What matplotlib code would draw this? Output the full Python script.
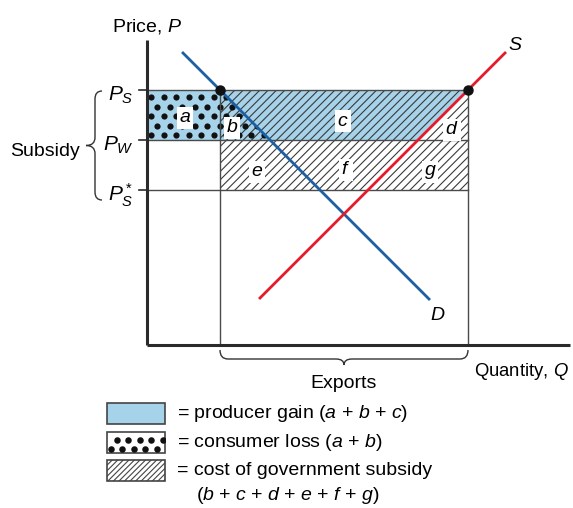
import matplotlib
matplotlib.use("Agg")
import matplotlib.pyplot as plt
import numpy as np
from matplotlib.patches import Polygon, Rectangle, PathPatch
from matplotlib.path import Path

plt.rcParams['font.family'] = ['Liberation Sans', 'DejaVu Sans']
plt.rcParams['mathtext.fontset'] = 'custom'
plt.rcParams['mathtext.rm'] = 'Liberation Sans'
plt.rcParams['mathtext.it'] = 'Liberation Sans:italic'
plt.rcParams['hatch.color'] = '#3a3a3a'
plt.rcParams['hatch.linewidth'] = 0.8

# prices
P_S = 25.5        # support price for exporters
P_W = 20.5        # world price
P_S_star = 15.5   # foreign price after subsidy
# quantities where exports start / end
Q1 = 7.3
Q2 = 32.1
# linear curves p = a + b*q
demand_a, demand_b = 32.8, -1.0
supply_a, supply_b = -6.6, 1.0
demand_q = [3.6, 28.2]
supply_q = [11.3, 35.8]

# area labels
area_labels = ['a', 'b', 'c', 'd', 'e', 'f', 'g']
area_q = [3.8, 8.5, 19.6, 30.5, 11.0, 19.9, 28.3]
area_p = [22.7, 21.7, 22.4, 21.5, 17.3, 17.5, 17.3]

legend_texts = ['= producer gain ($a$ + $b$ + $c$)',
                '= consumer loss ($a$ + $b$)',
                '= cost of government subsidy']
legend_text2 = '($b$ + $c$ + $d$ + $e$ + $f$ + $g$)'

BLUE_FILL = '#a6d3ea'
D_COL = '#1b5fa5'
S_COL = '#e31b2b'
AX_COL = '#2a2a2a'
LN_COL = '#4a4a4a'
HATCH_COL = '#3a3a3a'
FS = 14


def demand(q):
    return demand_a + demand_b * np.asarray(q)


def supply(q):
    return supply_a + supply_b * np.asarray(q)


def q_demand(p):
    return (p - demand_a) / demand_b


def q_supply(p):
    return (p - supply_a) / supply_b


def dots(ax, clip, x0, x1, y0, y1, dx=1.2, dy=1.0, s=12):
    # staggered dot texture clipped to a patch
    xs, ys = [], []
    for i, y in enumerate(np.arange(y0 + dy / 2, y1, dy)):
        off = (i % 2) * dx / 2
        for x in np.arange(x0 + dx / 3 + off, x1, dx):
            xs.append(x)
            ys.append(y)
    sc = ax.scatter(xs, ys, s=s, color='#111111', zorder=4, linewidths=0)
    sc.set_clip_path(clip)


def brace(ax, pts):
    codes = [Path.MOVETO, Path.CURVE3, Path.CURVE3, Path.LINETO,
             Path.CURVE3, Path.CURVE3, Path.CURVE3, Path.CURVE3,
             Path.LINETO, Path.CURVE3, Path.CURVE3]
    ax.add_patch(PathPatch(Path(pts, codes), fc='none', ec='#333333', lw=1.0))


fig = plt.figure(figsize=(5.73, 5.08), dpi=100)
ax = fig.add_axes([0, 0, 1, 1])
ax.set_xlim(-14.7, 42.6)
ax.set_ylim(-16.3, 34.5)
ax.axis('off')

# producer gain (a + b + c) in blue
qs_w = q_supply(P_W)
blue = Polygon([(0, P_W), (0, P_S), (Q2, P_S), (qs_w, P_W)], closed=True,
               fc=BLUE_FILL, ec='none', zorder=1)
ax.add_patch(blue)

# cost of subsidy hatched (b..g)
hatch_rect = Rectangle((Q1, P_S_star), Q2 - Q1, P_S - P_S_star, fc='none',
                       ec=HATCH_COL, lw=0, hatch='////', zorder=2)
ax.add_patch(hatch_rect)

# consumer loss dots (a + b)
qd_w = q_demand(P_W)
loss = Polygon([(0, P_W), (0, P_S), (Q1, P_S), (qd_w, P_W)], closed=True,
               fc='none', ec='none', zorder=3)
ax.add_patch(loss)
dots(ax, loss, 0, qd_w, P_W, P_S, dx=1.25, dy=0.95, s=20)

# grid lines of the diagram
for p in [P_S, P_W, P_S_star]:
    ax.plot([0, Q2], [p, p], color=LN_COL, lw=1.0, zorder=5)
    ax.plot([-0.8, 0], [p, p], color=AX_COL, lw=1.2, zorder=5)
for q in [Q1, Q2]:
    ax.plot([q, q], [0, P_S], color=LN_COL, lw=1.0, zorder=5)

# axes
ax.plot([0, 0], [0, 30.5], color=AX_COL, lw=2.2, zorder=6, solid_capstyle='butt')
ax.plot([0, 42.3], [0, 0], color=AX_COL, lw=2.2, zorder=6, solid_capstyle='butt')

# demand and supply
ax.plot(demand_q, demand(demand_q), color=D_COL, lw=2.0, zorder=7)
ax.plot(supply_q, supply(supply_q), color=S_COL, lw=2.0, zorder=7)
ax.plot([Q1, Q2], [P_S, P_S], 'o', color='#111111', ms=6.5, zorder=8)

ax.text(supply_q[1] + 1.0, supply(supply_q[1]) + 0.8, '$S$', fontsize=FS,
        ha='center', va='center')
ax.text(demand_q[1] + 0.9, demand(demand_q[1]) - 1.6, '$D$', fontsize=FS,
        ha='center', va='center')

for lab, q, p in zip(area_labels, area_q, area_p):
    ax.text(q, p, '$' + lab + '$', fontsize=FS, ha='center', va='center', zorder=9,
            bbox=dict(fc='white', ec='none', pad=1.5))

# axis titles
ax.text(0, 31.8, 'Price, $P$', fontsize=FS, ha='center', va='center')
ax.text(32.7, -2.6, 'Quantity, $Q$', fontsize=13.3, ha='left', va='center')

# price labels
ax.text(-1.3, P_S - 0.5, '$P_S$', fontsize=FS + 1, ha='right', va='center')
ax.text(-1.3, P_W - 0.5, '$P_W$', fontsize=FS + 1, ha='right', va='center')
ax.text(-1.3, P_S_star - 0.5, '$P_S^*$', fontsize=FS + 1, ha='right', va='center')

# subsidy brace
xe, xs, xt, r = -4.5, -5.2, -6.1, 0.8
yt, yb = 25.4, 14.5
ym = (yt + yb) / 2
brace(ax, [(xe, yt), (xs, yt), (xs, yt - r), (xs, ym + r), (xs, ym), (xt, ym),
           (xs, ym), (xs, ym - r), (xs, yb + r), (xs, yb), (xe, yb)])
ax.text(-6.7, ym - 0.6, 'Subsidy', fontsize=FS, ha='right', va='center')

# exports brace
pe, ps, pt = -0.5, -1.4, -2.0
qm = (Q1 + Q2) / 2
brace(ax, [(Q1, pe), (Q1, ps), (Q1 + r, ps), (qm - r, ps), (qm, ps), (qm, pt),
           (qm, ps), (qm + r, ps), (Q2 - r, ps), (Q2, ps), (Q2, pe)])
ax.text(qm, -3.8, 'Exports', fontsize=FS, ha='center', va='center')

# key
kx, kw, kh = -4.0, 5.8, 2.1
key_top = [-5.8, -8.7, -11.5]
sw1 = Rectangle((kx, key_top[0] - kh), kw, kh, fc=BLUE_FILL, ec='#444444', lw=1.2)
ax.add_patch(sw1)
sw2 = Rectangle((kx, key_top[1] - kh), kw, kh, fc='white', ec='#444444', lw=1.2)
ax.add_patch(sw2)
dots(ax, sw2, kx, kx + kw, key_top[1] - kh, key_top[1], dx=1.15, dy=0.85, s=22)
sw3 = Rectangle((kx, key_top[2] - kh), kw, kh, fc='white', ec='#444444', lw=1.2,
                hatch='//////')
ax.add_patch(sw3)
for t, y in zip(legend_texts, key_top):
    ax.text(3.0, y - kh / 2, t, fontsize=FS, ha='left', va='center')
ax.text(4.9, -15.1, legend_text2, fontsize=FS, ha='left', va='center')

fig.savefig('out.png', dpi=100)
